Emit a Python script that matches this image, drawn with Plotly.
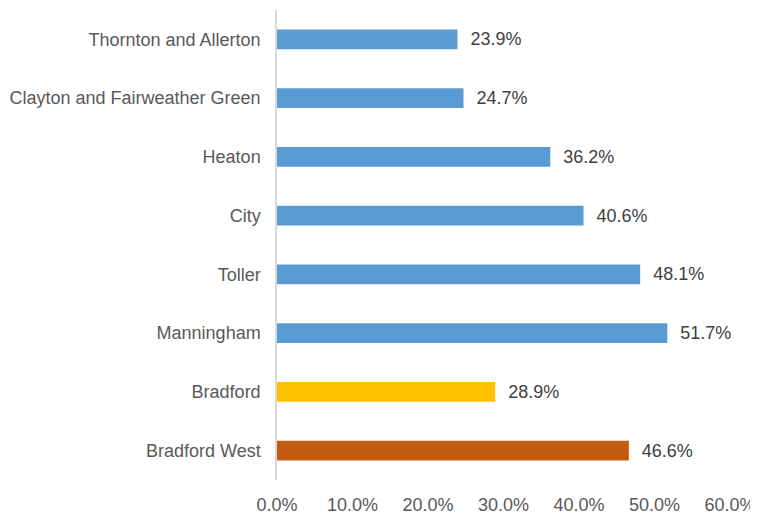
import plotly.graph_objects as go

categories = ["Thornton and Allerton", "Clayton and Fairweather Green", "Heaton", "City",
              "Toller", "Manningham", "Bradford", "Bradford West"]
values = [23.9, 24.7, 36.2, 40.6, 48.1, 51.7, 28.9, 46.6]
colors = ["#5B9BD5"] * 6 + ["#FFC000", "#C55A11"]
x_ticks = [0, 10, 20, 30, 40, 50, 60]
x_tick_labels = [f"{t:.1f}%" for t in x_ticks]

FONT = "Liberation Sans, Arial, sans-serif"

fig = go.Figure(go.Bar(
    x=values, y=categories, orientation="h",
    marker=dict(color=colors, line=dict(width=0)),
    width=0.34,
    text=[f"{v:.1f}%" for v in values],
    texttemplate="  %{text}",
    textposition="outside",
    textfont=dict(family=FONT, size=18, color="#404040"),
    cliponaxis=False,
))

# page body has an 8px default margin, so the figure is sized to fit the 758x514 window
fig.update_layout(
    width=750, height=506,
    margin=dict(l=269, r=28, t=2, b=34, autoexpand=False),
    paper_bgcolor="white", plot_bgcolor="white",
    font=dict(family=FONT, size=18, color="#595959"),
    showlegend=False,
    xaxis=dict(range=[0, 60], tickvals=x_ticks, ticktext=x_tick_labels,
               showgrid=False, zeroline=False, showline=False, automargin=False,
               ticks="outside", ticklen=8, tickcolor="rgba(0,0,0,0)",
               tickfont=dict(size=18, color="#595959")),
    yaxis=dict(autorange="reversed", showgrid=False, zeroline=False, automargin=False,
               showline=True, linecolor="#D9D9D9", linewidth=1.5,
               ticks="outside", ticklen=11, tickcolor="rgba(0,0,0,0)",
               tickfont=dict(size=18, color="#595959")),
)

fig.write_html("out.html")
